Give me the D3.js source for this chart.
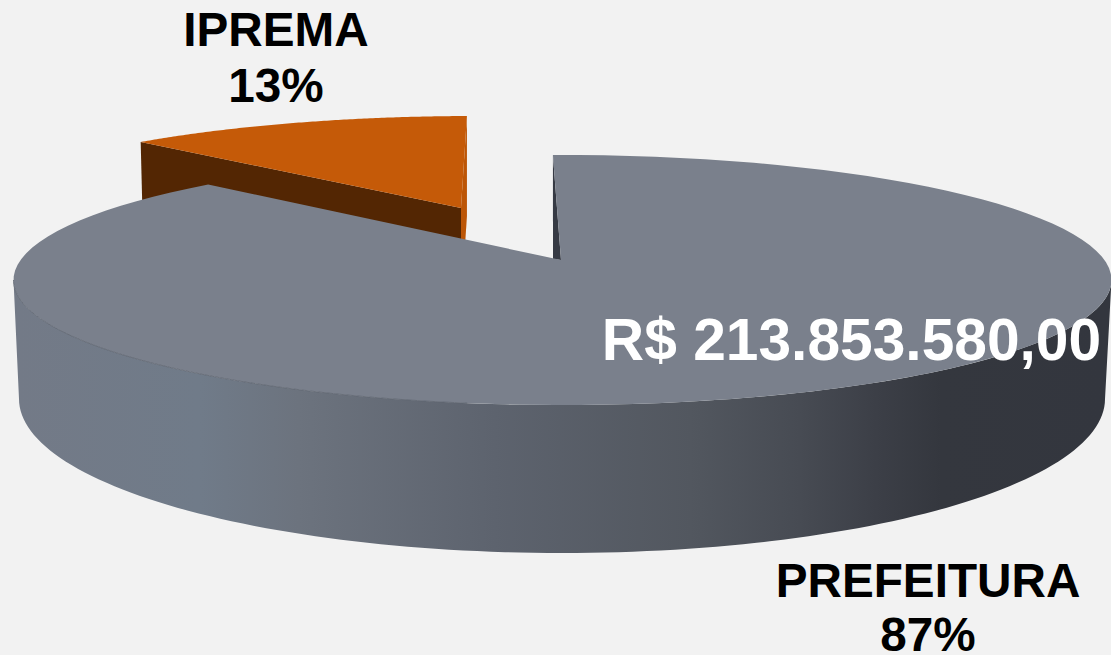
<!DOCTYPE html>
<html>
<head>
<meta charset="utf-8">
<script src="https://cdn.jsdelivr.net/npm/d3@7"></script>
<style>
  html, body { margin: 0; padding: 0; background: #f2f2f2; overflow: hidden; }
  text { font-family: "Liberation Sans", Arial, sans-serif; font-weight: bold; }
</style>
</head>
<body>
<div id="chart-area"></div>
<script>
const categories = ['PREFEITURA', 'IPREMA'];
const shares = [87, 13];
const shareLabels = ['87%', '13%'];
const amountLabel = 'R$ 213.853.580,00';

const width = 1111;
const height = 655;
const rad = d => (d * Math.PI) / 180;

const slices = d3.pie().sort(null)(shares);
const main = slices[0];
const ipr = slices[1];

// the pie is seen in perspective, so rim positions are not the raw pie angles
const rimAngle = d3
  .scaleLinear()
  .domain([main.startAngle, main.endAngle, ipr.endAngle])
  .range([rad(-1), rad(319.8), rad(359)]);

const topRim = { cx: 562.5, cy: 280, rx: 549, ry: 125 };
const bottomRim = { cx: 562, cy: 399, rx: 543, ry: 154 };
const apex = [561, 260];
const iprRim = { cx: 476, cy: 226, rx: 519.5, ry: 110 };
const iprApex = [461, 208];
const iprDepth = 100;

const rimPoint = (rim, a) => [rim.cx + rim.rx * Math.sin(a), rim.cy - rim.ry * Math.cos(a)];
const arcPoints = (rim, a0, a1) =>
  d3.range(0, 121).map(i => rimPoint(rim, a0 + ((a1 - a0) * i) / 120));
const line = d3.line();

const svg = d3
  .select('#chart-area')
  .append('svg')
  .attr('width', width)
  .attr('height', height)
  .style('display', 'block');

const defs = svg.append('defs');
const sideGrad = defs
  .append('linearGradient')
  .attr('id', 'side')
  .attr('gradientUnits', 'userSpaceOnUse')
  .attr('x1', 15)
  .attr('x2', 1105)
  .attr('y1', 0)
  .attr('y2', 0);
[
  [0, '#737a87'],
  [0.17, '#707b89'],
  [0.26, '#6c737e'],
  [0.44, '#5d636e'],
  [0.62, '#52575f'],
  [0.72, '#474b53'],
  [0.79, '#3c3f47'],
  [0.85, '#34373e'],
  [1, '#33363e']
].forEach(([o, c]) => sideGrad.append('stop').attr('offset', o).attr('stop-color', c));

// Exploded slice, drawn first because the big slice covers its lower part
const iprStart = rimAngle(ipr.startAngle);
const iprEnd = rimAngle(ipr.endAngle);
const iprA = rimPoint(iprRim, iprStart);
const iprB = rimPoint(iprRim, iprEnd);
const down = (p, dx) => [p[0] + dx, p[1] + iprDepth];

svg
  .append('path')
  .attr('d', line([iprB, iprApex, down(iprApex, 0), down(iprB, 0)]) + 'Z')
  .attr('fill', '#bc5607');
svg
  .append('path')
  .attr('d', line([iprA, iprApex, down(iprApex, 0), down(iprA, 2.5)]) + 'Z')
  .attr('fill', '#532603');
svg
  .append('path')
  .attr('d', line([iprApex, ...arcPoints(iprRim, iprStart, iprEnd)]) + 'Z')
  .attr('fill', '#c55a08');

// Big slice: side wall
const front = arcPoints(topRim, rad(90), rad(270));
const frontLow = arcPoints(bottomRim, rad(270), rad(90));
svg
  .append('path')
  .attr('d', line([...front, ...frontLow]) + 'Z')
  .attr('fill', 'url(#side)');

// Big slice: inner wall seen in the gap
const mainA = rimPoint(topRim, rimAngle(main.startAngle));
svg
  .append('path')
  .attr('d', line([mainA, apex, [apex[0] - 8, apex[1] - 1]]) + 'Z')
  .attr('fill', '#363a44');

// Big slice: top face
const mainRim = arcPoints(topRim, rimAngle(main.startAngle), rimAngle(main.endAngle));
svg
  .append('path')
  .attr('d', line([apex, ...mainRim]) + 'Z')
  .attr('fill', '#7a808c');

// thin edge along the front of the top face
svg
  .append('path')
  .attr('d', line(arcPoints(topRim, rad(190), rad(270))))
  .attr('fill', 'none')
  .attr('stroke', '#5d636e')
  .attr('stroke-width', 0.8);

const labels = [
  { lines: [categories[1], shareLabels[1]], x: 276, y: [46, 102], size: 47.7, fill: '#000' },
  { lines: [categories[0], shareLabels[0]], x: 928, y: [597, 651], size: 47.7, fill: '#000' },
  { lines: [amountLabel], x: 851.5, y: [360], size: 58.7, fill: '#fff' }
];
labels.forEach(l => {
  l.lines.forEach((t, i) => {
    svg
      .append('text')
      .attr('x', l.x)
      .attr('y', l.y[i])
      .attr('text-anchor', 'middle')
      .attr('font-size', l.size)
      .attr('fill', l.fill)
      .text(t);
  });
});
</script>
</body>
</html>
